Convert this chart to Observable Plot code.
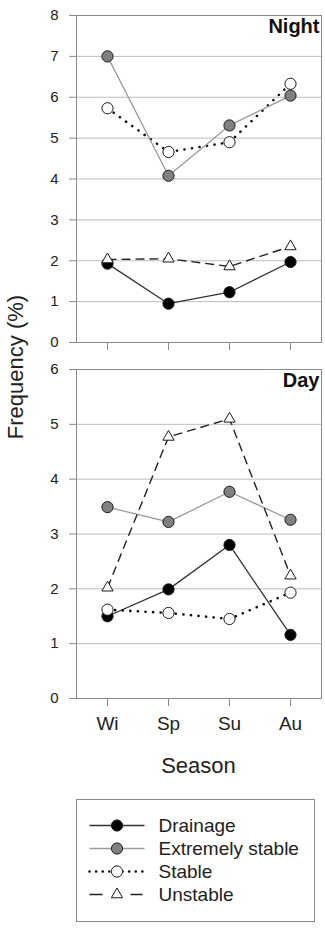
<!DOCTYPE html>
<html>
<head>
<meta charset="utf-8">
<script src="https://cdn.jsdelivr.net/npm/d3@7"></script>
<script src="https://cdn.jsdelivr.net/npm/@observablehq/plot@0.6"></script>
<style>
  html, body { margin: 0; padding: 0; background: #fff; }
  #wrap { position: relative; width: 325px; height: 930px; font-family: "Liberation Sans", Arial, sans-serif; color: #222; }
  #wrap > div.abs { position: absolute; }
  #wrap svg { display: block; }
  .ylab { font-size: 22px; white-space: nowrap; transform: translate(-50%, -50%) rotate(-90deg); left: 16px; top: 367px; line-height: 22px; }
  .xlab { font-size: 22px; width: 245px; left: 76px; top: 754px; text-align: center; line-height: 24px; }
</style>
</head>
<body>
<div id="wrap"></div>
<script>
// ---- data ----
const seasons = ["Wi", "Sp", "Su", "Au"];
const seriesNames = ["Drainage", "Extremely stable", "Stable", "Unstable"];
const nightDrainage = [1.93, 0.95, 1.23, 1.97];
const nightExtremelyStable = [7.0, 4.08, 5.31, 6.04];
const nightStable = [5.73, 4.66, 4.90, 6.33];
const nightUnstable = [2.03, 2.05, 1.86, 2.35];
const dayDrainage = [1.50, 1.99, 2.80, 1.16];
const dayExtremelyStable = [3.49, 3.22, 3.77, 3.26];
const dayStable = [1.62, 1.56, 1.45, 1.93];
const dayUnstable = [2.02, 4.77, 5.10, 2.24];
const nightTicks = [0, 1, 2, 3, 4, 5, 6, 7, 8];
const dayTicks = [0, 1, 2, 3, 4, 5, 6];

// ---- styles ----
const styles = {
  "Drainage":         {line: "#333", width: 1.3, dash: null, cap: "butt", fill: "#000", symbol: "circle", r: 5.6},
  "Extremely stable": {line: "#9a9a9a", width: 1.3, dash: null, cap: "butt", fill: "#808080", symbol: "circle", r: 5.6},
  "Stable":           {line: "#111", width: 2.6, dash: "0.1,7.5", cap: "round", fill: "#fff", symbol: "circle", r: 5.6},
  "Unstable":         {line: "#222", width: 1.4, dash: "9,5", cap: "butt", fill: "#fff", symbol: "triangle", r: 4.2}
};
const drawOrder = ["Drainage", "Stable", "Extremely stable", "Unstable"];

function table(arrs) {
  const rows = [];
  seriesNames.forEach((s, i) => seasons.forEach((se, j) => rows.push({series: s, season: se, value: arrs[i][j]})));
  return rows;
}
const nightData = table([nightDrainage, nightExtremelyStable, nightStable, nightUnstable]);
const dayData = table([dayDrainage, dayExtremelyStable, dayStable, dayUnstable]);

const font = {fontFamily: "'Liberation Sans', Arial, sans-serif", background: "transparent", color: "#222", overflow: "visible"};

function seriesMarks(data) {
  const marks = [];
  for (const s of drawOrder) {
    const st = styles[s];
    const d = data.filter(r => r.series === s);
    marks.push(Plot.line(d, {x: "season", y: "value", stroke: st.line, strokeWidth: st.width,
      strokeDasharray: st.dash, strokeLinecap: st.cap}));
  }
  for (const s of drawOrder) {
    const st = styles[s];
    const d = data.filter(r => r.series === s);
    marks.push(Plot.dot(d, {x: "season", y: "value", symbol: () => st.symbol, r: st.r, fill: st.fill, stroke: "#1a1a1a", strokeWidth: 1}));
  }
  return marks;
}

function panel({data, ticks, label, height, marginTop, marginBottom, showLabels}) {
  const maxT = ticks[ticks.length - 1];
  return Plot.plot({
    width: 325, height, marginLeft: 76, marginRight: 4, marginTop, marginBottom,
    style: font,
    x: {type: "point", domain: seasons, padding: 0.5},
    y: {domain: [0, maxT]},
    marks: [
      Plot.ruleY(ticks.filter(t => t > 0 && t < maxT), {stroke: "#bdbdbd", strokeWidth: 1}),
      Plot.frame({stroke: "#8a8a8a", strokeWidth: 1}),
      Plot.axisY({ticks, tickFormat: d => String(d), tickSize: 7, tickPadding: 11, fontSize: 15, label: null, stroke: "#8a8a8a", color: "#222"}),
      Plot.axisX({tickSize: 8, tickPadding: 10, fontSize: 19, label: null, stroke: "#8a8a8a",
        tickFormat: showLabels ? (d => d) : (() => "")}),
      ...seriesMarks(data),
      Plot.text([label], {frameAnchor: "top-right", dx: -2, dy: 3, fontSize: 20, fontWeight: "bold", fill: "#111"})
    ]
  });
}

const wrap = document.getElementById("wrap");
function place(node, left, top) {
  const d = document.createElement("div");
  d.className = "abs";
  d.style.left = left + "px";
  d.style.top = top + "px";
  d.appendChild(node);
  wrap.appendChild(d);
}

place(panel({data: nightData, ticks: nightTicks, label: "Night", height: 352, marginTop: 15, marginBottom: 10, showLabels: false}), 0, 0);
place(panel({data: dayData, ticks: dayTicks, label: "Day", height: 390, marginTop: 17, marginBottom: 44, showLabels: true}), 0, 352);

// axis titles
const yl = document.createElement("div"); yl.className = "abs ylab"; yl.textContent = "Frequency (%)"; wrap.appendChild(yl);
const xl = document.createElement("div"); xl.className = "abs xlab"; xl.textContent = "Season"; wrap.appendChild(xl);

// legend
const legendRows = [];
seriesNames.forEach(s => { legendRows.push({series: s, t: 0}); legendRows.push({series: s, t: 1}); });
const legendDash = {"Drainage": null, "Extremely stable": null, "Stable": "0.1,6.5", "Unstable": "13,28,12,10"};
const legendMarks = [Plot.frame({stroke: "#8a8a8a", strokeWidth: 1})];
for (const s of seriesNames) {
  const st = styles[s];
  legendMarks.push(Plot.line(legendRows.filter(r => r.series === s), {x: "t", y: "series", stroke: st.line,
    strokeWidth: st.width, strokeDasharray: legendDash[s], strokeLinecap: st.cap}));
}
for (const s of seriesNames) {
  const st = styles[s];
  legendMarks.push(Plot.dot([{series: s, t: 0.5}], {x: "t", y: "series", symbol: () => st.symbol, r: st.r, fill: st.fill, stroke: "#1a1a1a", strokeWidth: 1}));
}
legendMarks.push(Plot.text(seriesNames, {x: () => 1, y: d => d, text: d => d, dx: 14, textAnchor: "start", fontSize: 19, fill: "#222"}));
const legend = Plot.plot({
  width: 238, height: 122, margin: 0,
  style: font,
  x: {domain: [0, 1], range: [13, 68], axis: null},
  y: {type: "point", domain: seriesNames, range: [25, 96], padding: 0, axis: null},
  marks: legendMarks
});
place(legend, 76, 799);
</script>
</body>
</html>
